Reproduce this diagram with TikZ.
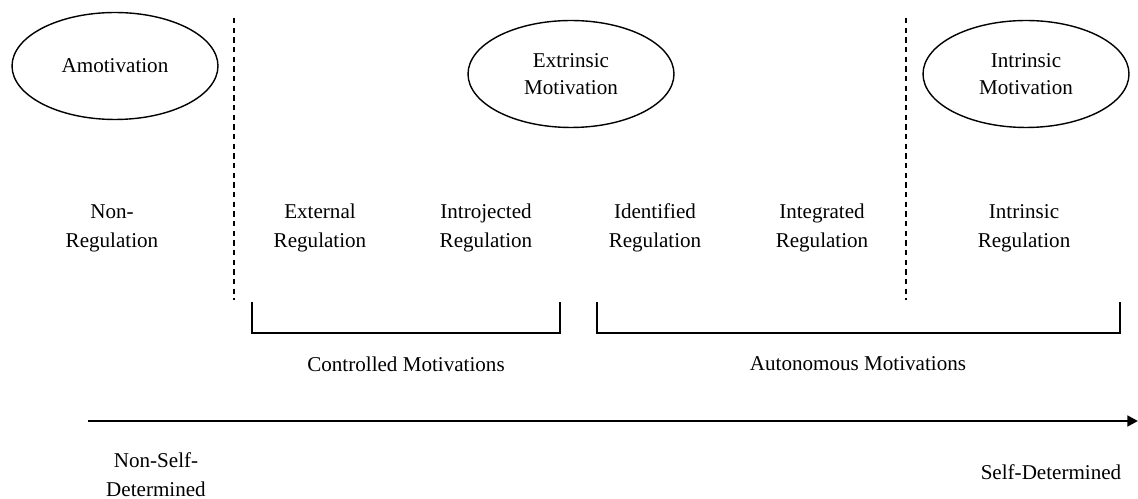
\documentclass[tikz,border=0pt]{standalone}
\usepackage{fontspec}
\setmainfont{Liberation Serif}
\usetikzlibrary{shapes.geometric,arrows.meta}
\tikzset{
	oval/.style={draw, ellipse, line width=0.8pt, minimum width=4.12cm, minimum height=2.14cm, inner sep=0pt, align=center, font=\fontsize{12}{15.5}\selectfont},
	lab/.style={align=center, inner sep=0pt, font=\fontsize{12}{16.5}\selectfont},
	divider/.style={line width=0.7pt, dash pattern=on 3pt off 2.5pt},
	bracket/.style={line width=1.1pt},
	scale arrow/.style={line width=1.7pt, -{Triangle[length=6pt,width=6pt]}}
}

\begin{document}
\begin{tikzpicture}[x=0.02cm, y=-0.02cm]
			%%%%% START %%%%%
			\useasboundingbox (0,0) rectangle (1138,499);
			
			% the three motivation types
			\node[oval] (amot) at (115, 66) {Amotivation};
			\node[oval] (extr) at (571, 74) {Extrinsic\\Motivation};
			\node[oval] (intr) at (1026, 74) {Intrinsic\\Motivation};
			
			% dividers
			\draw[divider] (234, 18) -- (234, 300);
			\draw[divider] (906, 18) -- (906, 300);
			
			% regulation styles
			\node[lab] (nonreg) at (112, 228) {Non-\\Regulation};
			\node[lab] (extreg) at (320, 228) {External\\Regulation};
			\node[lab] (introreg) at (486, 228) {Introjected\\Regulation};
			\node[lab] (identreg) at (655, 228) {Identified\\Regulation};
			\node[lab] (integreg) at (822, 228) {Integrated\\Regulation};
			\node[lab] (intrreg) at (1024, 228) {Intrinsic\\Regulation};
			
			% brackets
			\draw[bracket] (252, 302) -- (252, 333) -- (560, 333) -- (560, 302);
			\draw[bracket] (597, 302) -- (597, 333) -- (1120, 333) -- (1120, 302);
			\node[lab] (contr) at (406, 364) {Controlled Motivations};
			\node[lab] (auton) at (858, 364) {Autonomous Motivations};
			
			% continuum
			\coordinate (lo) at (88, 421);
			\coordinate (hi) at (1138, 421);
			\draw[scale arrow] (lo) -- (hi);
			\node[lab] (nonself) at (156, 475) {Non-Self-\\Determined};
			\node[lab] (self) at (1051, 472) {Self-Determined};
			
			%%%%% END %%%%%
\end{tikzpicture}
\end{document}
